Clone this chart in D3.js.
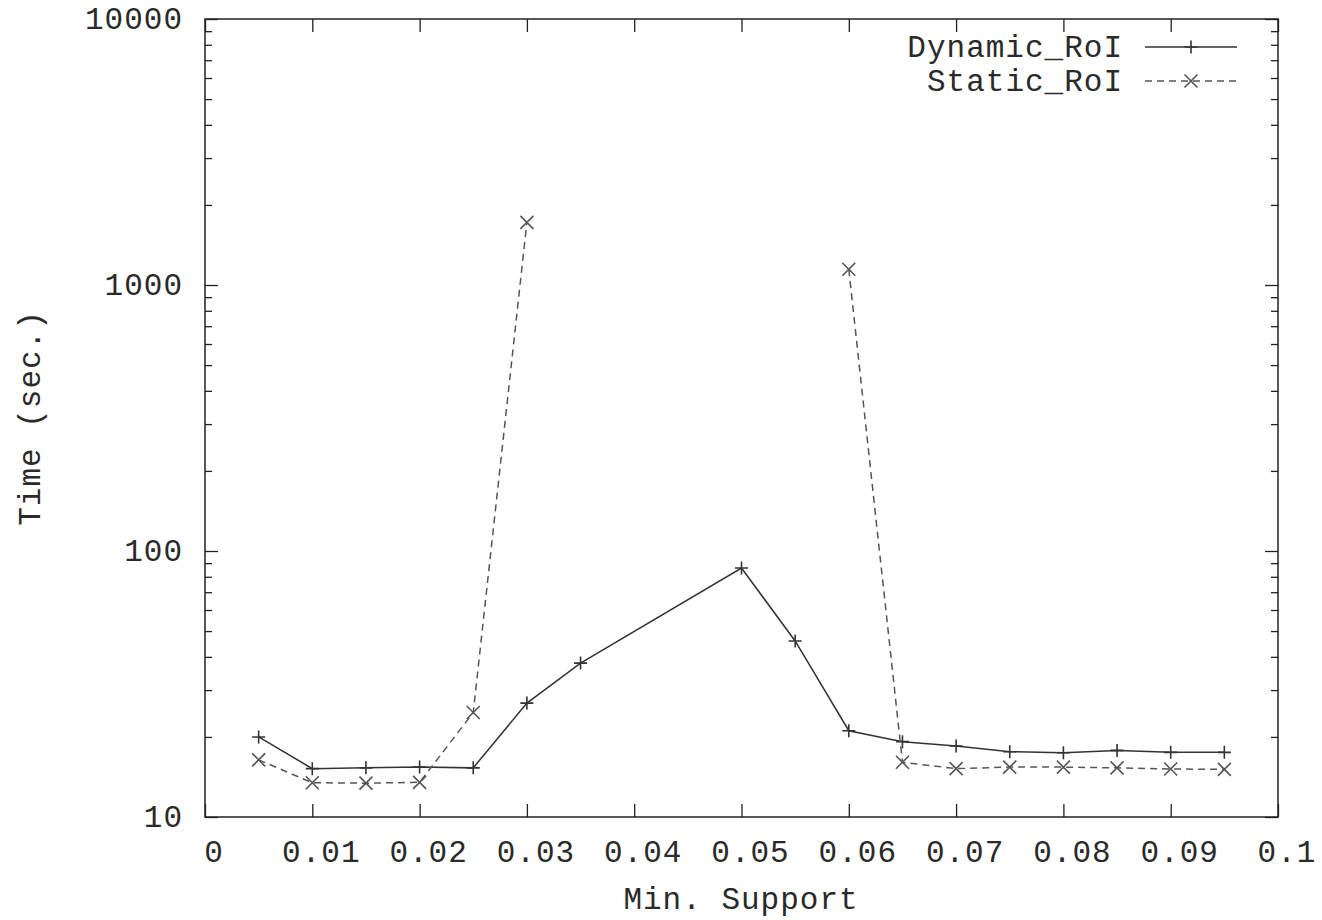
<!DOCTYPE html>
<html>
<head>
<meta charset="UTF-8">
<title>Time vs Min. Support</title>
<script src="https://d3js.org/d3.v7.min.js"></script>
<style>
body { margin: 0; background: #fff; }
text { font-family: "Liberation Mono", "Courier New", monospace; fill: #2a2a2a; letter-spacing: 1px; }
</style>
</head>
<body>
<svg id="chart" width="1322" height="920"></svg>
<script>

/* Data (null = no point) */
var support = [0.005, 0.01, 0.015, 0.02, 0.025, 0.03, 0.035, 0.04, 0.045, 0.05,
               0.055, 0.06, 0.065, 0.07, 0.075, 0.08, 0.085, 0.09, 0.095]
var dynamicRoI = [20.0, 15.2, 15.3, 15.4, 15.3, 26.8, 37.9, null, null, 86.3,
                  45.9, 21.1, 19.2, 18.5, 17.6, 17.45, 17.8, 17.5, 17.5]
var staticRoI = [16.4, 13.45, 13.4, 13.5, 24.7, 1720, null, null, null, null,
                 null, 1146, 16.06, 15.2, 15.4, 15.4, 15.3, 15.15, 15.1]
var seriesNames = ['Dynamic_RoI', 'Static_RoI']
var xTicks = [0, 0.01, 0.02, 0.03, 0.04, 0.05, 0.06, 0.07, 0.08, 0.09, 0.1]
var xTickLabels = ['0', '0.01', '0.02', '0.03', '0.04', '0.05', '0.06', '0.07', '0.08', '0.09', '0.1']
var yTicks = [10, 100, 1000, 10000]
var yTickLabels = ['10', '100', '1000', '10000']

/* Layout (plot frame in pixels) */
var pL = 205, pR = 1278, pT = 19, pB = 817
var fontSize = 31

var svg = d3.select('#chart')

var x = d3.scaleLinear().domain([0, 0.1]).range([pL, pR])
var y = d3.scaleLog().domain([10, 10000]).range([pB, pT])

/* Minor ticks on the log axis: 2..9 times each decade */
var yMinor = []
for (var d = 10; d < 10000; d *= 10) {
	for (var k = 2; k <= 9; k++) yMinor.push(d * k)
}

/* Axes: major ticks labelled on bottom/left, mirrored ticks on top/right */
function tickStyle(g) {
	g.select('.domain').remove()
	g.selectAll('line').attr('stroke', '#222').attr('stroke-width', 1.3)
}

svg.append('g')
	.attr('transform', 'translate(0,' + pB + ')')
	.call(d3.axisTop(x).tickValues(xTicks).tickSize(13).tickFormat(''))
	.call(tickStyle)
svg.append('g')
	.attr('transform', 'translate(0,' + pT + ')')
	.call(d3.axisBottom(x).tickValues(xTicks).tickSize(13).tickFormat(''))
	.call(tickStyle)
svg.append('g')
	.attr('transform', 'translate(' + pL + ',0)')
	.call(d3.axisRight(y).tickValues(yTicks).tickSize(13).tickFormat(''))
	.call(tickStyle)
svg.append('g')
	.attr('transform', 'translate(' + pL + ',0)')
	.call(d3.axisRight(y).tickValues(yMinor).tickSize(7).tickFormat(''))
	.call(tickStyle)
svg.append('g')
	.attr('transform', 'translate(' + pR + ',0)')
	.call(d3.axisLeft(y).tickValues(yTicks).tickSize(13).tickFormat(''))
	.call(tickStyle)
svg.append('g')
	.attr('transform', 'translate(' + pR + ',0)')
	.call(d3.axisLeft(y).tickValues(yMinor).tickSize(7).tickFormat(''))
	.call(tickStyle)

/* Tick labels (gnuplot puts them a little right of the tick) */
svg.append('g').selectAll('text')
	.data(xTicks)
	.enter()
	.append('text')
	.attr('x', function(d) { return x(d) + 9 })
	.attr('y', 862)
	.attr('text-anchor', 'middle')
	.attr('font-size', fontSize + 'px')
	.text(function(d, i) { return xTickLabels[i] })

svg.append('g').selectAll('text')
	.data(yTicks)
	.enter()
	.append('text')
	.attr('x', 183)
	.attr('y', function(d) { return y(d) + 10 })
	.attr('text-anchor', 'end')
	.attr('font-size', fontSize + 'px')
	.text(function(d, i) { return yTickLabels[i] })

/* Frame */
svg.append('rect')
	.attr('x', pL)
	.attr('y', pT)
	.attr('width', pR - pL)
	.attr('height', pB - pT)
	.attr('fill', 'none')
	.attr('stroke', '#222')
	.attr('stroke-width', 1.5)

/* Axis titles */
svg.append('text')
	.attr('x', 741)
	.attr('y', 909)
	.attr('text-anchor', 'middle')
	.attr('font-size', fontSize + 'px')
	.text('Min. Support')

svg.append('text')
	.attr('transform', 'translate(40,' + (pT + pB) / 2 + ') rotate(-90)')
	.attr('text-anchor', 'middle')
	.attr('font-size', fontSize + 'px')
	.text('Time (sec.)')

/* Series */
var styles = [
	{ color: '#333', dash: null, marker: 'plus' },
	{ color: '#555', dash: '7,5', marker: 'cross' }
]
var allSeries = [dynamicRoI, staticRoI]

function drawMarker(g, type, cx, cy, color) {
	var s = 6.5
	var p = type === 'plus'
		? 'M' + (cx - s) + ',' + cy + 'H' + (cx + s) + 'M' + cx + ',' + (cy - s) + 'V' + (cy + s)
		: 'M' + (cx - s) + ',' + (cy - s) + 'L' + (cx + s) + ',' + (cy + s) +
		  'M' + (cx - s) + ',' + (cy + s) + 'L' + (cx + s) + ',' + (cy - s)
	g.append('path').attr('d', p).attr('stroke', color).attr('stroke-width', 1.6).attr('fill', 'none')
}

var line = d3.line()
	.defined(function(d) { return d[1] != null })
	.x(function(d) { return x(d[0]) })
	.y(function(d) { return y(d[1]) })

allSeries.forEach(function(vals, si) {
	var st = styles[si]
	var pts = support.map(function(s, i) { return [s, vals[i]] })
	// solid series bridges gaps with a straight segment; dashed series breaks
	var drawn = si === 0 ? pts.filter(function(d) { return d[1] != null }) : pts
	var g = svg.append('g')
	g.append('path')
		.datum(drawn)
		.attr('d', line)
		.attr('fill', 'none')
		.attr('stroke', st.color)
		.attr('stroke-width', 1.5)
		.attr('stroke-dasharray', st.dash)
	pts.forEach(function(d) {
		if (d[1] != null) drawMarker(g, st.marker, x(d[0]), y(d[1]), st.color)
	})
})

/* Legend */
var legendY = [47, 81]
seriesNames.forEach(function(name, i) {
	var st = styles[i]
	svg.append('text')
		.attr('x', 1123)
		.attr('y', legendY[i] + 10)
		.attr('text-anchor', 'end')
		.attr('font-size', fontSize + 'px')
		.text(name)
	svg.append('line')
		.attr('x1', 1145).attr('x2', 1237)
		.attr('y1', legendY[i]).attr('y2', legendY[i])
		.attr('stroke', st.color)
		.attr('stroke-width', 1.5)
		.attr('stroke-dasharray', st.dash)
	drawMarker(svg, st.marker, 1191, legendY[i], st.color)
})

</script>
</body>
</html>
